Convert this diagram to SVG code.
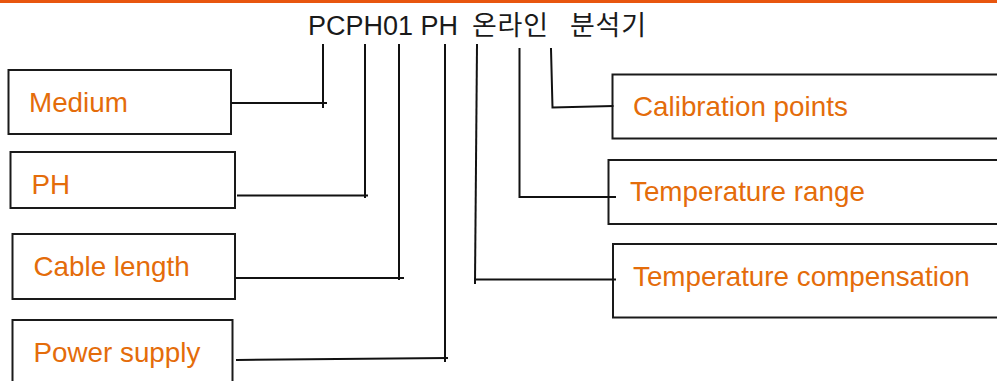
<svg xmlns="http://www.w3.org/2000/svg" width="997" height="381" viewBox="0 0 997 381">
<style>
.box{fill:#fff;stroke:#1a1a1a;stroke-width:2}
.lbl{font-family:"Liberation Sans",Arial,sans-serif;font-size:27.8px;fill:#E46C0A}
.title{font-family:"Liberation Sans","Noto Sans CJK KR",sans-serif;font-size:27px;fill:#1a1a1a}
.conn{fill:none;stroke:#111;stroke-width:2;stroke-linecap:square}
</style>
<rect x="0" y="0" width="997" height="381" fill="#fff"/>
<line x1="0" y1="1.5" x2="997" y2="1.5" stroke="#E8560F" stroke-width="3"/>
<text id="title" class="title" y="35"><tspan x="308">PCPH01 PH</tspan><tspan x="472" textLength="76" lengthAdjust="spacing">온라인</tspan><tspan x="570" textLength="76" lengthAdjust="spacing">분석기</tspan></text>
<g id="medium"><rect class="box" x="8.5" y="70" width="222.5" height="64"/><text class="lbl" x="29" y="112">Medium</text></g>
<g id="ph"><rect class="box" x="10.5" y="152" width="224.5" height="56"/><text class="lbl" x="31.5" y="194">PH</text></g>
<g id="cable"><rect class="box" x="12.5" y="234" width="222.5" height="65"/><text class="lbl" x="33.5" y="276">Cable length</text></g>
<g id="power"><rect class="box" x="12.5" y="320" width="220" height="70"/><text class="lbl" x="33.5" y="362">Power supply</text></g>
<g id="calib"><rect class="box" x="612.5" y="74.5" width="400" height="64"/><text class="lbl" x="633" y="116">Calibration points</text></g>
<g id="temprange"><rect class="box" x="608.5" y="160" width="400" height="64"/><text class="lbl" x="630" y="201">Temperature range</text></g>
<g id="tempcomp"><rect class="box" x="613" y="244" width="400" height="73.5"/><text class="lbl" x="633" y="286">Temperature compensation</text></g>
<g id="connectors">
<polyline class="conn" points="323,45 323,107"/>
<polyline class="conn" points="232,103 326,103"/>
<polyline class="conn" points="365,45 365,197"/>
<polyline class="conn" points="238,195.5 367,195.5"/>
<polyline class="conn" points="399,45 399,279"/>
<polyline class="conn" points="237,278 403,278"/>
<polyline class="conn" points="445,45 445,361"/>
<polyline class="conn" points="237,360 447,358"/>
<polyline class="conn" points="477,45 475,283"/>
<polyline class="conn" points="475,279.5 615,279.5"/>
<polyline class="conn" points="519.5,49 519.5,197 615,197"/>
<polyline class="conn" points="551,49 552.5,107.5 612.5,106"/>
</g>
</svg>
